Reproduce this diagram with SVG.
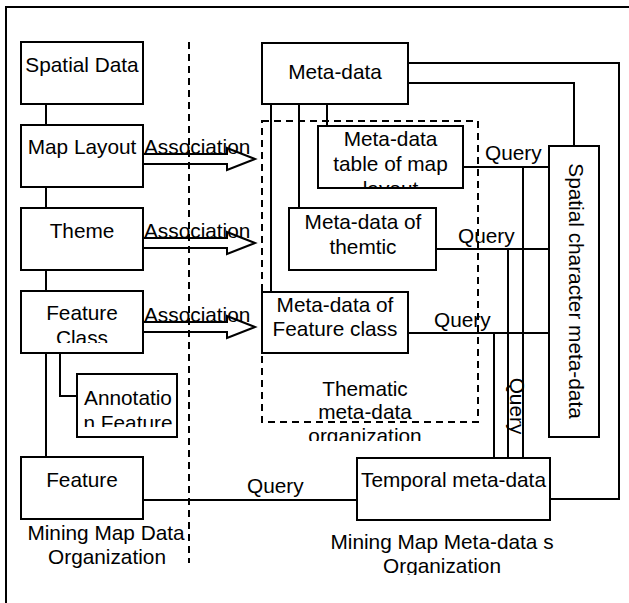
<svg xmlns="http://www.w3.org/2000/svg" width="629" height="603" viewBox="0 0 629 603">
<style>
.box{fill:#fff;stroke:#000;stroke-width:2}
.ln{fill:none;stroke:#000;stroke-width:2}
.dash{fill:none;stroke:#000;stroke-width:2;stroke-dasharray:7,5}
.arr{fill:none;stroke:#000;stroke-width:2;stroke-linejoin:miter}
text{font-family:"Liberation Sans",Arial,sans-serif;font-size:20.8px;fill:#000}
.c{text-anchor:middle}
</style>
<defs>
<clipPath id="cpFC"><rect x="21" y="290" width="122" height="53"/></clipPath>
<clipPath id="cpAn"><rect x="77" y="374" width="100" height="53"/></clipPath>
<clipPath id="cpMT"><rect x="318" y="126" width="145" height="61"/></clipPath>
<clipPath id="cpTh"><rect x="300" y="370" width="140" height="71"/></clipPath>
<clipPath id="cpMM"><rect x="300" y="525" width="300" height="50"/></clipPath>
</defs>
<rect x="0" y="0" width="629" height="603" fill="#fff"/>
<rect x="6" y="7" width="650" height="620" class="ln"/>
<line x1="189" y1="42" x2="189" y2="563" class="dash"/>
<rect x="262" y="121" width="216" height="301" class="dash"/>
<g id="connectors">
<line x1="46" y1="104" x2="46" y2="457" class="ln"/>
<polyline points="60,353 60,396 77,396" class="ln"/>
<polyline points="408,63 619,63 619,499 550,499" class="ln"/>
<polyline points="408,83 574,83 574,146" class="ln"/>
<line x1="271" y1="104" x2="271" y2="292" class="ln"/>
<line x1="299" y1="104" x2="299" y2="208" class="ln"/>
<line x1="327" y1="104" x2="327" y2="126" class="ln"/>
<line x1="463" y1="167" x2="549" y2="167" class="ln"/>
<line x1="436" y1="249" x2="549" y2="249" class="ln"/>
<line x1="408" y1="333" x2="549" y2="333" class="ln"/>
<line x1="523" y1="167" x2="523" y2="458" class="ln"/>
<line x1="508" y1="249" x2="508" y2="458" class="ln"/>
<line x1="494" y1="333" x2="494" y2="458" class="ln"/>
<line x1="143" y1="500" x2="357" y2="500" class="ln"/>
<polygon points="143,154 227,154 227,148 255,159 227,170 227,164 143,164" class="arr"/>
<polygon points="143,238 227,238 227,232 255,243 227,254 227,248 143,248" class="arr"/>
<polygon points="143,322 227,322 227,316 255,327 227,338 227,332 143,332" class="arr"/>
<text x="144" y="154">Association</text>
<text x="144" y="238">Association</text>
<text x="144" y="322">Association</text>
<text x="485" y="160">Query</text>
<text x="458" y="243">Query</text>
<text x="434" y="327">Query</text>
<text x="247" y="493">Query</text>
<text transform="translate(510,406) rotate(90)" class="c">Query</text>
</g>
<g id="spatial-data"><rect x="21" y="42" width="122" height="62" class="box"/><text x="82" y="72" class="c">Spatial Data</text></g>
<g id="map-layout"><rect x="21" y="125" width="122" height="62" class="box"/><text x="82" y="154" class="c">Map Layout</text></g>
<g id="theme"><rect x="21" y="208" width="122" height="62" class="box"/><text x="82" y="238" class="c">Theme</text></g>
<g id="feature-class"><rect x="21" y="291" width="122" height="62" class="box"/><g clip-path="url(#cpFC)"><text x="82" y="320" class="c">Feature</text><text x="82" y="345" class="c">Class</text></g></g>
<g id="annotation-feature"><rect x="77" y="374" width="100" height="63" class="box"/><g clip-path="url(#cpAn)"><text x="128" y="405" class="c">Annotatio</text><text x="128" y="430" class="c">n Feature</text></g></g>
<g id="feature"><rect x="21" y="457" width="122" height="62" class="box"/><text x="82" y="487" class="c">Feature</text></g>
<g id="mining-map-data-label"><text x="106" y="540" class="c">Mining Map Data</text><text x="107" y="564" class="c">Organization</text></g>
<g id="meta-data"><rect x="262" y="43" width="146" height="61" class="box"/><text x="335" y="79" class="c">Meta-data</text></g>
<g id="meta-data-table"><rect x="318" y="126" width="145" height="62" class="box"/><g clip-path="url(#cpMT)"><text x="390.5" y="146" class="c">Meta-data</text><text x="390.5" y="171" class="c">table of map</text><text x="390.5" y="196" class="c">layout</text></g></g>
<g id="meta-data-themtic"><rect x="289" y="208" width="147" height="62" class="box"/><text x="363" y="229" class="c">Meta-data of</text><text x="363" y="254" class="c">themtic</text></g>
<g id="meta-data-feature-class"><rect x="262" y="292" width="146" height="61" class="box"/><text x="335" y="312" class="c">Meta-data of</text><text x="335" y="336" class="c">Feature class</text></g>
<g id="thematic-label" clip-path="url(#cpTh)"><text x="365" y="396" class="c">Thematic</text><text x="365" y="419" class="c">meta-data</text><text x="365" y="443" class="c">organization</text></g>
<g id="spatial-character"><rect x="549" y="146" width="50" height="291" class="box"/><text transform="translate(569,291) rotate(90)" class="c">Spatial character meta-data</text></g>
<g id="temporal"><rect x="357" y="458" width="193" height="62" class="box"/><text x="453.5" y="487" class="c">Temporal meta-data</text></g>
<g id="mining-map-meta-label" clip-path="url(#cpMM)"><text x="442" y="549" class="c">Mining Map Meta-data s</text><text x="442" y="573" class="c">Organization</text></g>
</svg>
